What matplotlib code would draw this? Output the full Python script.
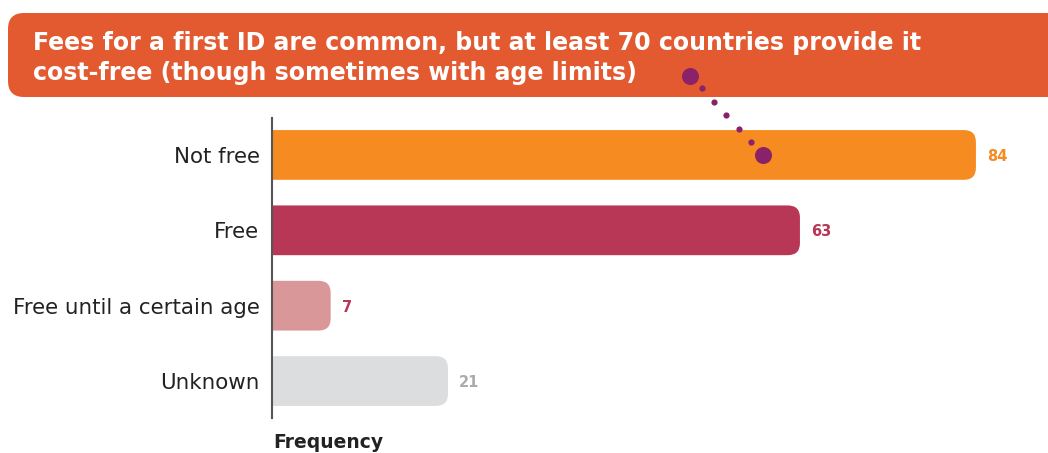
import matplotlib
matplotlib.use("Agg")
import matplotlib.pyplot as plt
from matplotlib.patches import FancyBboxPatch

# Data
categories = ["Not free", "Free", "Free until a certain age", "Unknown"]
values = [84, 63, 7, 21]
bar_colors = ["#F68B21", "#B93756", "#D9979A", "#DCDDDF"]
label_colors = ["#F68B21", "#B93756", "#B93756", "#ABABAB"]
title_lines = "Fees for a first ID are common, but at least 70 countries provide it\ncost-free (though sometimes with age limits)"
xlabel = "Frequency"

W, H = 1048, 453
fig = plt.figure(figsize=(W / 100, H / 100), dpi=100)
fig.patch.set_facecolor("white")

# Bar axes
ax = fig.add_axes([272 / W, (H - 418) / H, (W - 272) / W, 300 / H])
ax.set_xlim(0, (W - 272) / 8.38)
ax.set_ylim(len(categories) - 0.51, -0.49)
ax.set_facecolor("none")

bar_h = 0.66
r_x = 1.45
aspect = 0.11
for i, (v, c) in enumerate(zip(values, bar_colors)):
    # rounded box that starts left of the axis so only the right corners show
    p = FancyBboxPatch((-r_x * 2, i - bar_h / 2), v + r_x * 2, bar_h,
                       boxstyle=f"round,pad=0,rounding_size={r_x}",
                       mutation_aspect=aspect, facecolor=c, edgecolor="none",
                       clip_on=True)
    ax.add_patch(p)
    ax.text(v + 1.3, i + 0.02, f"{v}", color=label_colors[i], fontsize=10.5,
            fontweight="semibold", va="center", ha="left")

ax.set_yticks(range(len(categories)))
ax.set_yticklabels(categories, fontsize=15.4, color="#222222")
ax.tick_params(axis="y", length=0, pad=9)
ax.set_xticks([])
for s in ["top", "right", "bottom"]:
    ax.spines[s].set_visible(False)
ax.spines["left"].set_color("#555555")
ax.spines["left"].set_linewidth(1.5)

fig.text(273 / W, 1 - 442 / H, xlabel, fontsize=13.5, fontweight="bold",
         color="#222222", ha="left", va="center")

# Overlay in pixel coordinates for the header banner and connector dots
ov = fig.add_axes([0, 0, 1, 1], zorder=5)
ov.set_xlim(0, W)
ov.set_ylim(H, 0)
ov.axis("off")
ov.set_facecolor("none")

banner = FancyBboxPatch((8, 13), W + 40, 84, boxstyle="round,pad=0,rounding_size=16",
                        facecolor="#E35A31", edgecolor="none")
ov.add_patch(banner)
ov.text(33, 58, title_lines, color="white", fontsize=17, fontweight="bold",
        ha="left", va="center", linespacing=1.27)

dot_color = "#8B2169"
ov.scatter([690, 763], [76, 155], s=150, color=dot_color, zorder=6, linewidths=0)
ov.scatter([702, 714, 726, 739, 751], [88, 102, 115, 129, 142], s=20,
           color=dot_color, zorder=6, linewidths=0)

fig.savefig("out.png", dpi=100, facecolor="white")
